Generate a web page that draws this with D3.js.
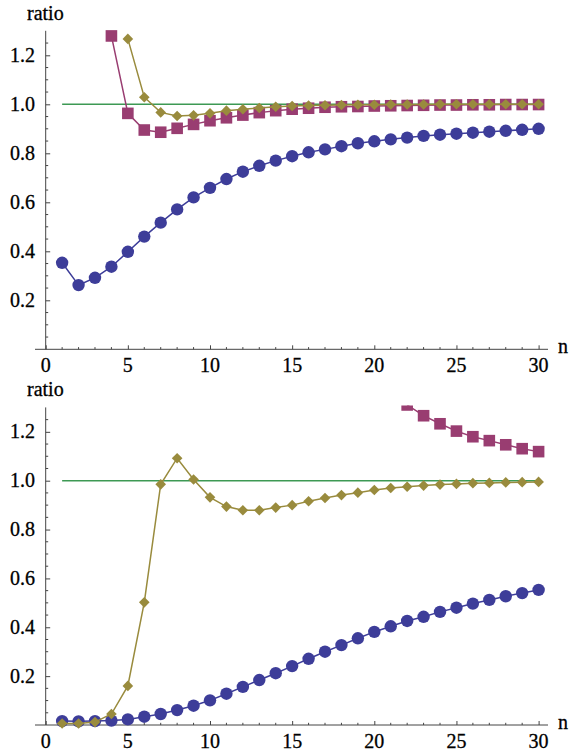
<!DOCTYPE html>
<html>
  <head>
    <meta charset="utf-8" />
    <script src="https://d3js.org/d3.v7.min.js"></script>
  </head>
  <body style="margin:0">
    <svg id="chart" width="571" height="753"></svg>
    <script>
      // ---- data ----
      const xTicks = [0, 5, 10, 15, 20, 25, 30];
      const yTicks = [0.2, 0.4, 0.6, 0.8, 1.0, 1.2];

      // top panel
      const topCircleN = d3.range(1, 31);
      const topCircle = [0.353, 0.262, 0.292, 0.337, 0.398, 0.46, 0.517, 0.571, 0.62, 0.659,
        0.695, 0.725, 0.749, 0.77, 0.788, 0.804, 0.816, 0.829, 0.841, 0.849,
        0.857, 0.864, 0.871, 0.876, 0.88, 0.884, 0.888, 0.892, 0.896, 0.9];
      const topSquareN = d3.range(4, 31);
      const topSquare = [1.279, 0.963, 0.895, 0.886, 0.902, 0.918, 0.933, 0.945, 0.956, 0.966,
        0.974, 0.98, 0.984, 0.988, 0.99, 0.991, 0.993, 0.994, 0.995, 0.996,
        0.997, 0.997, 0.998, 0.998, 0.999, 0.999, 0.999];
      const topDiamondN = d3.range(5, 31);
      const topDiamond = [1.267, 1.029, 0.967, 0.952, 0.955, 0.963, 0.974, 0.98, 0.985, 0.99,
        0.993, 0.995, 0.996, 0.997, 0.998, 0.998, 0.999, 0.999, 0.999, 1.0,
        1.0, 1.0, 1.0, 1.0, 1.0, 1.0];

      // bottom panel
      const botCircleN = d3.range(1, 31);
      const botCircle = [0.016, 0.015, 0.016, 0.018, 0.023, 0.034, 0.045, 0.061, 0.079, 0.101,
        0.128, 0.156, 0.184, 0.212, 0.241, 0.271, 0.3, 0.327, 0.355, 0.381,
        0.404, 0.426, 0.443, 0.463, 0.48, 0.497, 0.512, 0.527, 0.54, 0.553];
      const botSquareN = d3.range(22, 31);
      const botSquare = [1.31, 1.266, 1.233, 1.203, 1.18, 1.164, 1.147, 1.131, 1.119];
      const botDiamondN = d3.range(1, 31);
      const botDiamond = [0.006, 0.006, 0.012, 0.045, 0.16, 0.502, 0.985, 1.092, 1.005, 0.932,
        0.894, 0.879, 0.879, 0.89, 0.9, 0.916, 0.929, 0.941, 0.951, 0.962,
        0.97, 0.975, 0.98, 0.984, 0.987, 0.99, 0.991, 0.993, 0.994, 0.995];

      const refLine = [1, 30];

      const blue = "#3d3d99";
      const magenta = "#993d71";
      const olive = "#998b3d";
      const green = "#3d9954";

      const svg = d3.select("svg#chart");

      const x = d3.scaleLinear().domain([0, 30]).range([45.7, 538.6]);

      function addText(g, txt) {
        return g.append("text")
          .attr("font-family", "Liberation Serif")
          .attr("font-size", 20)
          .attr("fill", "#000")
          .attr("stroke", "#000")
          .attr("stroke-width", 0.3)
          .text(txt);
      }

      function drawPanel(id, yBottom, pxPerUnit, series) {
        const y = d3.scaleLinear().domain([0, 1.3]).range([yBottom, yBottom - 1.3 * pxPerUnit]);
        const g = svg.append("g").attr("id", id);

        g.append("clipPath")
          .attr("id", id + "-clip")
          .append("rect")
          .attr("x", 0)
          .attr("y", y(1.3) - 2)
          .attr("width", 571)
          .attr("height", yBottom - y(1.3) + 20);

        // minor ticks
        const xMinor = d3.range(1, 31).filter((d) => d % 5 !== 0);
        g.selectAll("line.xminor")
          .data(xMinor)
          .join("line")
          .attr("class", "xminor")
          .attr("x1", (d) => x(d))
          .attr("x2", (d) => x(d))
          .attr("y1", y(0))
          .attr("y2", y(0) - 2.2)
          .attr("stroke", "#444");
        const yMinor = d3.range(0.05, 1.3, 0.05).filter((d) => Math.abs(d * 5 - Math.round(d * 5)) > 0.01);
        g.selectAll("line.yminor")
          .data(yMinor)
          .join("line")
          .attr("class", "yminor")
          .attr("x1", x(0))
          .attr("x2", x(0) + 2.5)
          .attr("y1", (d) => y(d))
          .attr("y2", (d) => y(d))
          .attr("stroke", "#444");

        // axes (ticks only, labels drawn separately)
        const xAxis = g.append("g")
          .attr("transform", `translate(0,${y(0)})`)
          .call(d3.axisTop(x).tickValues(xTicks).tickSize(4).tickFormat(""));
        xAxis.select(".domain").remove();
        xAxis.selectAll(".tick text").remove();
        xAxis.selectAll(".tick line").attr("stroke", "#444");
        xAxis.append("line")
          .attr("x1", 35).attr("x2", 548).attr("y1", 0).attr("y2", 0)
          .attr("stroke", "#444");
        xTicks.forEach((d) => {
          addText(g, String(d)).attr("x", x(d)).attr("y", y(0) + 23).attr("text-anchor", "middle");
        });

        const yAxis = g.append("g")
          .attr("transform", `translate(${x(0)},0)`)
          .call(d3.axisRight(y).tickValues(yTicks).tickSize(4.5).tickFormat(""));
        yAxis.select(".domain").remove();
        yAxis.selectAll(".tick text").remove();
        yAxis.selectAll(".tick line").attr("stroke", "#444");
        yAxis.append("line")
          .attr("x1", 0).attr("x2", 0).attr("y1", y(1.3)).attr("y2", y(0))
          .attr("stroke", "#444");
        yTicks.forEach((d) => {
          addText(g, d.toFixed(1)).attr("x", 35).attr("y", y(d) + 6.5).attr("text-anchor", "end");
        });

        addText(g, "ratio").attr("x", 27).attr("y", y(1.3) - 11);
        addText(g, "n").attr("x", 558).attr("y", y(0) + 4);

        const plot = g.append("g").attr("clip-path", `url(#${id}-clip)`);

        plot.append("line")
          .attr("x1", x(refLine[0])).attr("x2", x(refLine[1]))
          .attr("y1", y(1)).attr("y2", y(1))
          .attr("stroke", green).attr("stroke-width", 1.6);

        const line = d3.line().x((d) => x(d[0])).y((d) => y(d[1]));

        series.forEach((s) => {
          const pts = s.n.map((n, i) => [n, s.v[i]]);
          plot.append("path")
            .datum(pts)
            .attr("d", line)
            .attr("fill", "none")
            .attr("stroke", s.color)
            .attr("stroke-width", 1.5);
          const sym = plot.selectAll(null).data(pts);
          if (s.shape === "circle") {
            sym.join("circle")
              .attr("cx", (d) => x(d[0]))
              .attr("cy", (d) => y(d[1]))
              .attr("r", 6.2)
              .attr("fill", s.color);
          } else if (s.shape === "square") {
            sym.join("rect")
              .attr("x", (d) => x(d[0]) - 5.8)
              .attr("y", (d) => y(d[1]) - 5.8)
              .attr("width", 11.6)
              .attr("height", 11.6)
              .attr("fill", s.color);
          } else {
            sym.join("path")
              .attr("d", d3.symbol(d3.symbolDiamond2, 72))
              .attr("transform", (d) => `translate(${x(d[0])},${y(d[1])})`)
              .attr("fill", s.color);
          }
        });
      }

      drawPanel("top", 349.3, 245, [
        { n: topCircleN, v: topCircle, color: blue, shape: "circle" },
        { n: topSquareN, v: topSquare, color: magenta, shape: "square" },
        { n: topDiamondN, v: topDiamond, color: olive, shape: "diamond" },
      ]);
      drawPanel("bottom", 725, 244.3, [
        { n: botCircleN, v: botCircle, color: blue, shape: "circle" },
        { n: botSquareN, v: botSquare, color: magenta, shape: "square" },
        { n: botDiamondN, v: botDiamond, color: olive, shape: "diamond" },
      ]);
    </script>
  </body>
</html>
